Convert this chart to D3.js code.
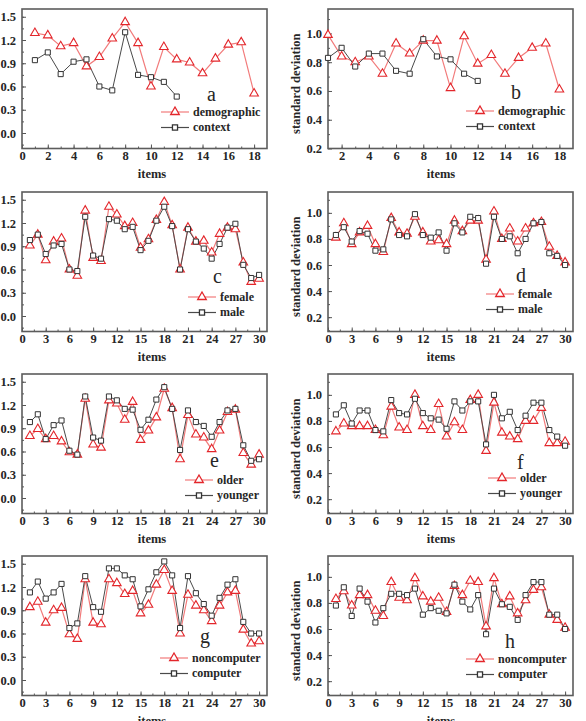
<!DOCTYPE html>
<head>
  <meta charset="utf-8">
  <script src="https://d3js.org/d3.v7.min.js"></script>
  <style>
    body { margin:0; background:#fff; }
    text { font-family: "Liberation Serif", "DejaVu Serif", serif; fill:#262626; }
    .axis text { font-size: 12.5px; font-weight: bold; }
    .axis line { stroke:#555; }
    .axis path { display:none; }
    .legend text { font-size: 12px; font-weight: bold; }
    .xlabel, .ylabel { font-size: 12.5px; font-weight: bold; }
    .letter { font-size: 20px; }
  </style>
</head>
<body>
<script>
// item numbers
var items18 = d3.range(1, 19);
var items12 = d3.range(1, 13);
var items30 = d3.range(1, 31);

// tick values
var leftTicks = [0.0, 0.3, 0.6, 0.9, 1.2, 1.5];
var rightTicks = [0.2, 0.4, 0.6, 0.8, 1.0];
var ticks18 = [0, 2, 4, 6, 8, 10, 12, 14, 16, 18];
var ticks18b = [2, 4, 6, 8, 10, 12, 14, 16, 18];
var ticks30 = [0, 3, 6, 9, 12, 15, 18, 21, 24, 27, 30];

// panel a / b
var demographicA = [1.29,1.26,1.12,1.16,0.86,0.98,1.22,1.43,1.16,0.60,1.11,0.95,0.91,0.77,0.96,1.14,1.17,0.51];
var contextA     = [0.94,1.04,0.76,0.92,0.95,0.60,0.55,1.30,0.75,0.72,0.66,0.47];
var demographicB = [0.99,0.84,0.80,0.84,0.72,0.93,0.86,0.95,0.95,0.62,0.98,0.79,0.85,0.72,0.83,0.90,0.93,0.61];
var contextB     = [0.83,0.90,0.77,0.86,0.86,0.74,0.72,0.96,0.84,0.82,0.72,0.67];

// panel c / d
var femaleC = [0.91,1.05,0.72,0.96,1.00,0.60,0.52,1.36,0.75,0.71,1.41,1.31,1.16,1.20,0.88,0.99,1.24,1.47,1.17,0.60,1.14,0.96,0.97,0.82,1.06,1.14,1.12,0.69,0.44,0.48];
var maleC   = [0.98,1.05,0.80,0.91,0.93,0.60,0.58,1.28,0.78,0.74,1.25,1.23,1.12,1.15,0.85,0.97,1.23,1.41,1.16,0.60,1.12,0.96,0.87,0.74,0.93,1.14,1.19,0.66,0.49,0.53];
var femaleD = [0.81,0.92,0.76,0.85,0.90,0.76,0.70,0.96,0.85,0.84,0.97,0.85,0.78,0.79,0.76,0.94,0.86,0.94,0.94,0.64,1.01,0.80,0.88,0.78,0.88,0.92,0.93,0.74,0.67,0.62];
var maleD   = [0.83,0.89,0.78,0.86,0.84,0.71,0.72,0.95,0.83,0.82,0.99,0.83,0.81,0.85,0.71,0.92,0.85,0.97,0.96,0.61,0.97,0.80,0.82,0.69,0.80,0.92,0.93,0.69,0.67,0.60];

// panel e / f
var olderE   = [0.80,0.89,0.76,0.80,0.73,0.59,0.56,1.28,0.69,0.65,1.26,1.22,1.01,1.24,0.75,0.87,1.04,1.41,1.16,0.50,1.07,0.82,0.78,0.63,0.87,1.11,1.14,0.58,0.43,0.56];
var youngerE = [0.98,1.08,0.76,0.94,1.00,0.61,0.56,1.31,0.78,0.74,1.31,1.26,1.15,1.14,0.88,1.01,1.27,1.43,1.15,0.62,1.13,0.98,0.93,0.79,0.98,1.13,1.15,0.68,0.48,0.50];
var olderF   = [0.72,0.78,0.76,0.76,0.76,0.73,0.69,0.91,0.75,0.73,1.00,0.76,0.73,0.93,0.68,0.79,0.73,0.96,1.00,0.57,0.94,0.71,0.68,0.66,0.80,0.80,0.90,0.63,0.63,0.64];
var youngerF = [0.85,0.92,0.78,0.88,0.88,0.73,0.72,0.96,0.86,0.85,0.97,0.86,0.82,0.81,0.74,0.95,0.88,0.95,0.95,0.62,1.00,0.82,0.87,0.73,0.84,0.94,0.94,0.73,0.68,0.61];

// panel g / h
var noncomputerG = [0.94,1.01,0.74,0.90,0.93,0.59,0.53,1.30,0.74,0.72,1.30,1.25,1.11,1.15,0.86,0.97,1.23,1.42,1.15,0.60,1.10,0.96,0.90,0.76,0.96,1.13,1.15,0.65,0.47,0.50];
var computerG    = [1.13,1.27,1.05,1.13,1.24,0.67,0.73,1.34,0.94,0.88,1.44,1.44,1.35,1.30,0.95,1.17,1.39,1.53,1.35,0.67,1.34,1.12,0.98,0.83,1.06,1.23,1.30,0.75,0.60,0.60];
var noncomputerH = [0.83,0.89,0.78,0.86,0.86,0.74,0.70,0.96,0.84,0.82,0.99,0.85,0.81,0.84,0.73,0.93,0.86,0.97,0.96,0.62,0.99,0.79,0.85,0.72,0.82,0.90,0.92,0.71,0.67,0.61];
var computerH    = [0.78,0.92,0.70,0.91,0.81,0.65,0.76,0.87,0.87,0.86,0.91,0.71,0.76,0.74,0.72,0.94,0.81,0.75,0.86,0.56,0.91,0.79,0.77,0.67,0.86,0.96,0.96,0.71,0.71,0.60];

var redLine = "#f27b7b", redMark = "#e3262b", blackLine = "#4a4a4a", blackMark = "#333";

var colX = [22, 328], rowY = [9, 192, 374, 556];
var pw = 245, ph = 139.5;

var panels = [
  {id:"a", col:0, row:0, xd:[0,19], xt:ticks18, xm:1, yd:[-0.2,1.6], yt:leftTicks, ym:0.15,
   red:["demographic", items18, demographicA], blk:["context", items12, contextA], lg:[139,103], lt:[185,92]},
  {id:"b", col:1, row:0, xd:[1,19], xt:ticks18b, xm:1, yd:[0.2,1.17], yt:rightTicks, ym:0.1,
   red:["demographic", items18, demographicB], blk:["context", items12, contextB], lg:[138,102], lt:[183,90]},
  {id:"c", col:0, row:1, xd:[0,31], xt:ticks30, xm:1.5, yd:[-0.2,1.6], yt:leftTicks, ym:0.15,
   red:["female", items30, femaleC], blk:["male", items30, maleC], lg:[166,105], lt:[191,91]},
  {id:"d", col:1, row:1, xd:[0,31], xt:ticks30, xm:1.5, yd:[0.09,1.16], yt:rightTicks, ym:0.1,
   red:["female", items30, femaleD], blk:["male", items30, maleD], lg:[158,102], lt:[188,90]},
  {id:"e", col:0, row:2, xd:[0,31], xt:ticks30, xm:1.5, yd:[-0.2,1.6], yt:leftTicks, ym:0.15,
   red:["older", items30, olderE], blk:["younger", items30, youngerE], lg:[163,106], lt:[188,93]},
  {id:"f", col:1, row:2, xd:[0,31], xt:ticks30, xm:1.5, yd:[0.09,1.16], yt:rightTicks, ym:0.1,
   red:["older", items30, olderF], blk:["younger", items30, youngerF], lg:[160,104], lt:[189,95]},
  {id:"g", col:0, row:3, xd:[0,31], xt:ticks30, xm:1.5, yd:[-0.2,1.6], yt:leftTicks, ym:0.15,
   red:["noncomputer", items30, noncomputerG], blk:["computer", items30, computerG], lg:[138,102], lt:[178,87]},
  {id:"h", col:1, row:3, xd:[0,31], xt:ticks30, xm:1.5, yd:[0.09,1.16], yt:rightTicks, ym:0.1,
   red:["noncomputer", items30, noncomputerH], blk:["computer", items30, computerH], lg:[138,103], lt:[177,92]}
];

var svg = d3.select("body").append("svg").attr("width", 586).attr("height", 721);

var tri = d3.symbol(d3.symbolTriangle, 32);
var sq = d3.symbol(d3.symbolSquare, 26);

panels.forEach(function(p) {
  var g = svg.append("g").attr("transform", "translate(" + colX[p.col] + "," + rowY[p.row] + ")");
  var x = d3.scaleLinear().domain(p.xd).range([0, pw]);
  var y = d3.scaleLinear().domain(p.yd).range([ph, 0]);

  // minor ticks
  var xMinor = d3.range(p.xt[0] - p.xm, p.xd[1], p.xm).filter(function(v){ return v > p.xd[0] && v < p.xd[1]; });
  var yMinor = d3.range(p.yt[0] - p.ym, p.yd[1], p.ym).filter(function(v){ return v > p.yd[0] && v < p.yd[1]; });
  g.append("g").attr("class","axis").attr("transform","translate(0," + ph + ")")
    .call(d3.axisBottom(x).tickValues(xMinor).tickSize(-2).tickFormat(""));
  g.append("g").attr("class","axis")
    .call(d3.axisLeft(y).tickValues(yMinor).tickSize(-2).tickFormat(""));

  g.append("g").attr("class","axis").attr("transform","translate(0," + ph + ")")
    .call(d3.axisBottom(x).tickValues(p.xt).tickSize(-4).tickPadding(3));
  g.append("g").attr("class","axis")
    .call(d3.axisLeft(y).tickValues(p.yt).tickSize(-4).tickPadding(6).tickFormat(d3.format(".1f")));

  g.append("rect").attr("width", pw).attr("height", ph)
    .attr("fill","none").attr("stroke","#5c5c5c").attr("stroke-width",1.6);

  var line = d3.line().x(function(d){ return x(d[0]); }).y(function(d){ return y(d[1]); });
  var red = p.red[1].map(function(it, i){ return [it, p.red[2][i]]; });
  var blk = p.blk[1].map(function(it, i){ return [it, p.blk[2][i]]; });

  g.append("path").datum(red).attr("d", line).attr("fill","none").attr("stroke", redLine).attr("stroke-width",1.2);
  g.append("path").datum(blk).attr("d", line).attr("fill","none").attr("stroke", blackLine).attr("stroke-width",1);

  g.selectAll(".tri").data(red).enter().append("path").attr("class","tri")
    .attr("d", tri).attr("transform", function(d){ return "translate(" + x(d[0]) + "," + y(d[1]) + ")"; })
    .attr("fill","#fff").attr("stroke", redMark).attr("stroke-width",1.1);
  g.selectAll(".sq").data(blk).enter().append("path").attr("class","sq")
    .attr("d", sq).attr("transform", function(d){ return "translate(" + x(d[0]) + "," + y(d[1]) + ")"; })
    .attr("fill","#fff").attr("stroke", blackMark).attr("stroke-width",1);

  // letter
  g.append("text").attr("class","letter").attr("x", p.lt[0]).attr("y", p.lt[1]).text(p.id);

  // legend
  var lg = g.append("g").attr("class","legend").attr("transform","translate(" + p.lg[0] + "," + p.lg[1] + ")");
  [[p.red[0], redLine, redMark, tri], [p.blk[0], blackLine, blackMark, sq]].forEach(function(s, i) {
    var yy = i * 15.5;
    lg.append("line").attr("x1",0).attr("x2",28).attr("y1",yy).attr("y2",yy).attr("stroke", s[1]).attr("stroke-width",1.2);
    lg.append("path").attr("d", s[3]).attr("transform","translate(14," + yy + ")")
      .attr("fill","#fff").attr("stroke", s[2]).attr("stroke-width",1.3);
    lg.append("text").attr("x",32).attr("y",yy).attr("dy","0.32em").text(s[0]);
  });

  // axis titles
  g.append("text").attr("class","xlabel").attr("x", p.col === 0 ? 130 : 113).attr("y", ph + 29)
    .attr("text-anchor","middle").text("items");
  if (p.col === 1) {
    g.append("text").attr("class","ylabel").attr("transform","translate(-28," + (ph / 2 + 5) + ") rotate(-90)")
      .attr("text-anchor","middle").text("standard deviation");
  }
});
</script>
</body>
